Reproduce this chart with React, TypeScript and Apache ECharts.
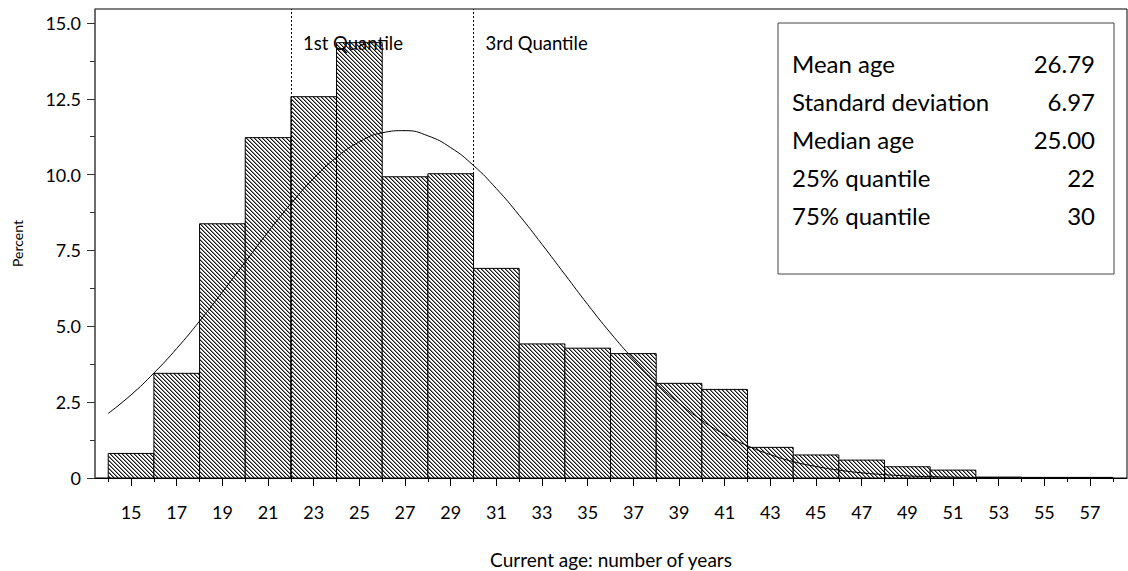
import React, { useEffect, useRef } from 'react';
import * as echarts from 'echarts';

// ---- data ----
const BIN_WIDTH = 2;
const AGE_BINS = [15, 17, 19, 21, 23, 25, 27, 29, 31, 33, 35, 37, 39, 41, 43, 45, 47, 49, 51, 53, 55, 57];
const PERCENTS = [0.81, 3.45, 8.38, 11.22, 12.57, 14.35, 9.93, 10.03, 6.91, 4.42, 4.28, 4.10, 3.12, 2.92, 1.01, 0.76, 0.59, 0.37, 0.26, 0.03, 0.02, 0.02];

const CURVE_X = [14, 15, 16, 17, 18, 19, 20, 21, 22, 23, 24, 25, 26, 27, 28, 29, 30, 31, 32, 33, 34, 35, 36, 37, 38, 39, 40, 41, 42, 43, 44, 45, 46, 47, 48, 49, 50, 51, 52, 53, 54, 55, 56, 57, 58];
const CURVE_Y = [2.13, 2.74, 3.46, 4.27, 5.17, 6.13, 7.12, 8.11, 9.04, 9.88, 10.57, 11.08, 11.38, 11.45, 11.28, 10.89, 10.30, 9.54, 8.66, 7.70, 6.71, 5.72, 4.78, 3.92, 3.14, 2.47, 1.90, 1.43, 1.06, 0.77, 0.54, 0.38, 0.26, 0.17, 0.11, 0.07, 0.045, 0.03, 0.02, 0.01, 0.005, 0, 0, 0, 0];

const QUANTILES = [22, 30];
const QUANTILE_LABELS = ['1st Quantile', '3rd Quantile'];

const STAT_LABELS = ['Mean age', 'Standard deviation', 'Median age', '25% quantile', '75% quantile'];
const STAT_VALUES = ['26.79', '6.97', '25.00', '22', '30'];

const X_LABEL_TICKS = [15, 17, 19, 21, 23, 25, 27, 29, 31, 33, 35, 37, 39, 41, 43, 45, 47, 49, 51, 53, 55, 57];
const X_MINOR_TICKS = [14, 16, 18, 20, 22, 24, 26, 28, 30, 32, 34, 36, 38, 40, 42, 44, 46, 48, 50, 52, 54, 56, 58];
const Y_TICKS = [0, 2.5, 5, 7.5, 10, 12.5, 15];
const Y_MINOR_TICKS = [1.25, 3.75, 6.25, 8.75, 11.25, 13.75];

const X_MIN = 13.42;
const X_MAX = 58.62;
const Y_MIN = 0;
const Y_MAX = 15.46;

const FONT = 'Lato';

function makeHatch() {
  const size = 4;
  const c = document.createElement('canvas');
  c.width = size;
  c.height = size;
  const ctx = c.getContext('2d')!;
  const img = ctx.createImageData(size, size);
  for (let r = 0; r < size; r++) {
    for (let col = 0; col < size; col++) {
      const i = (r * size + col) * 4;
      let v = 255;
      if (col === r) v = 20;
      else if (col === (r + 1) % size) v = 140;
      img.data[i] = v;
      img.data[i + 1] = v;
      img.data[i + 2] = v;
      img.data[i + 3] = 255;
    }
  }
  ctx.putImageData(img, 0, 0);
  return { image: c.toDataURL(), repeat: 'repeat', imageWidth: size, imageHeight: size };
}

export default function App() {
  const ref = useRef<HTMLDivElement>(null);

  useEffect(() => {
    const chart = echarts.init(ref.current!, null, { renderer: 'svg' });
    const hatch = makeHatch();

    const barData = AGE_BINS.map((a, i) => [a, PERCENTS[i]]);
    const curveData = CURVE_X.map((x, i) => [x, CURVE_Y[i]]);

    const option: any = {
      animation: false,
      backgroundColor: '#fff',
      textStyle: { fontFamily: FONT },
      grid: {
        left: 95, right: 1, top: 9, bottom: 93,
        show: true, borderColor: '#000', borderWidth: 1,
        containLabel: false, outerBoundsMode: 'none',
      },
      xAxis: [
        {
          type: 'value', min: X_MIN, max: X_MAX, position: 'bottom',
          axisLine: { show: true, lineStyle: { color: '#000', width: 1 } },
          axisTick: { show: true, customValues: X_LABEL_TICKS, length: 8, lineStyle: { color: '#000' } },
          axisLabel: { customValues: X_LABEL_TICKS, fontSize: 18, margin: 25, color: '#000', fontFamily: FONT },
          splitLine: { show: false },
          name: 'Current age: number of years',
          nameLocation: 'middle', nameGap: 72,
          nameTextStyle: { fontSize: 19, color: '#000', fontFamily: FONT },
        },
        {
          type: 'value', min: X_MIN, max: X_MAX, position: 'bottom',
          axisLine: { show: false },
          axisTick: { show: true, customValues: X_MINOR_TICKS, length: 4, lineStyle: { color: '#000' } },
          axisLabel: { show: false },
          splitLine: { show: false },
        },
      ],
      yAxis: [
        {
          type: 'value', min: Y_MIN, max: Y_MAX, position: 'left',
          axisLine: { show: true, lineStyle: { color: '#666', width: 1.5 } },
          axisTick: { show: true, customValues: Y_TICKS, length: 8, lineStyle: { color: '#333' } },
          axisLabel: {
            customValues: Y_TICKS, fontSize: 18, margin: 14, color: '#000', fontFamily: FONT,
            formatter: (v: number) => (v === 0 ? '0' : v.toFixed(1)),
          },
          splitLine: { show: false },
          name: 'Percent', nameLocation: 'middle', nameGap: 71,
          nameTextStyle: { fontSize: 14, color: '#000', fontFamily: FONT },
        },
        {
          type: 'value', min: Y_MIN, max: Y_MAX, position: 'left',
          axisLine: { show: false },
          axisTick: { show: true, customValues: Y_MINOR_TICKS, length: 5, lineStyle: { color: '#333' } },
          axisLabel: { show: false },
          splitLine: { show: false },
        },
      ],
      series: [
        {
          type: 'custom',
          xAxisIndex: 0, yAxisIndex: 0,
          data: barData,
          encode: { x: 0, y: 1 },
          z: 2,
          renderItem: (_params: any, api: any) => {
            const x = api.value(0);
            const v = api.value(1);
            const p0 = api.coord([x - BIN_WIDTH / 2, v]);
            const p1 = api.coord([x + BIN_WIDTH / 2, 0]);
            return {
              type: 'rect',
              shape: { x: p0[0], y: p0[1], width: p1[0] - p0[0], height: p1[1] - p0[1] },
              style: { fill: hatch, stroke: '#000', lineWidth: 1 },
            };
          },
        },
        {
          type: 'line',
          xAxisIndex: 0, yAxisIndex: 0,
          data: curveData,
          smooth: true,
          showSymbol: false,
          symbol: 'none',
          lineStyle: { color: '#000', width: 1 },
          z: 3,
          markLine: {
            silent: true,
            symbol: ['none', 'none'],
            label: { show: false },
            lineStyle: { color: '#000', width: 1, type: [2, 2] },
            data: QUANTILES.map((q) => ({ xAxis: q })),
          },
        },
      ],
    };

    chart.setOption(option);

    const rowY = [63.5, 101.5, 139.5, 177.5, 215.5];
    const graphics: any[] = [];
    QUANTILES.forEach((q, i) => {
      const px = chart.convertToPixel({ xAxisIndex: 0 }, q) as number;
      graphics.push({
        type: 'text', x: px + 12, y: 43, z: 100,
        style: { text: QUANTILE_LABELS[i], fontSize: 18.5, fontFamily: FONT, fill: '#000', align: 'left', verticalAlign: 'middle' },
      });
    });
    graphics.push({
      type: 'rect', z: 100,
      shape: { x: 778, y: 23, width: 336, height: 251 },
      style: { fill: '#fff', stroke: '#444', lineWidth: 1 },
    });
    STAT_LABELS.forEach((label, i) => {
      graphics.push({
        type: 'text', x: 792, y: rowY[i], z: 101,
        style: { text: label, fontSize: 24, fontFamily: FONT, fill: '#000', align: 'left', verticalAlign: 'middle' },
      });
      graphics.push({
        type: 'text', x: 1095, y: rowY[i], z: 101,
        style: { text: STAT_VALUES[i], fontSize: 24, fontFamily: FONT, fill: '#000', align: 'right', verticalAlign: 'middle' },
      });
    });
    chart.setOption({ graphic: graphics });

    return () => chart.dispose();
  }, []);

  return <div ref={ref} style={{ position: 'fixed', left: 0, top: 0, width: 1128, height: 571 }} />;
}
